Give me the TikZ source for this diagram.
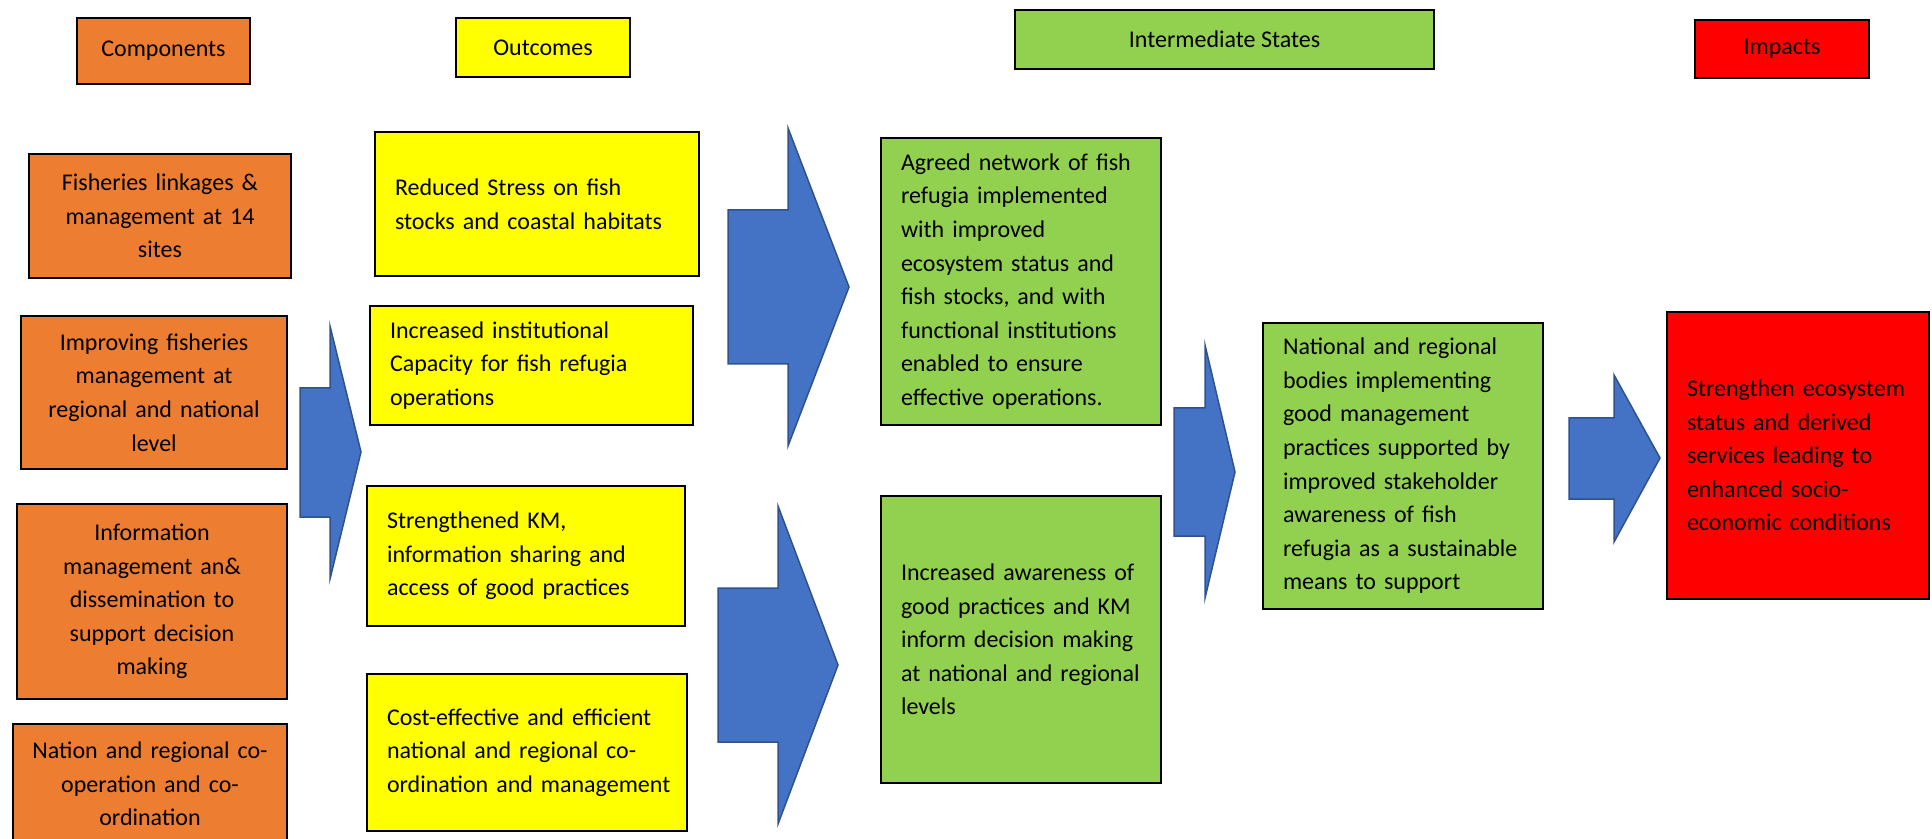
\documentclass[tikz,border=0pt]{standalone}
\usepackage{fontspec}
\setmainfont{Carlito}
\definecolor{orng}{HTML}{ED7D31}
\definecolor{ylw}{HTML}{FFFF00}
\definecolor{grn}{HTML}{92D050}
\definecolor{rd}{HTML}{FF0000}
\definecolor{abl}{HTML}{4472C4}
\definecolor{abd}{HTML}{2F528F}
\begin{document}
\begin{tikzpicture}[x=0.5pt,y=-0.5pt,
  box/.style={draw=black, line width=0.75pt, inner sep=0pt,
    font=\fontsize{12pt}{16.8pt}\selectfont},
  sz/.style 2 args={minimum width=#1, minimum height=#2},
  lt/.style={align=left, text width=#1},
  ct/.style={align=center, text width=#1},
  comp/.style={box, fill=orng},
  outc/.style={box, fill=ylw},
  inter/.style={box, fill=grn},
  imp/.style={box, fill=rd},
  blockarrow/.style={fill=abl, draw=abd, line width=0.75pt, line join=miter}
]
\fill[white] (0,0) rectangle (1932,839);
\useasboundingbox (0,0) rectangle (1932,839);

% headers
\node[comp, sz={86.5pt}{33pt}] (hComp) at (163.5,51) {Components};
\node[outc, sz={87pt}{29.5pt}] (hOut) at (543,47.5) {Outcomes};
\node[inter, sz={209.5pt}{29.5pt}] (hInt) at (1224.5,39.5) {Intermediate States};
\node[imp, sz={87pt}{29pt}] (hImp) at (1782,49) {Impacts};

% components
\node[comp, sz={131pt}{62pt}, ct=121pt] (c1) at (160,216)
  {Fisheries linkages \&\\management at 14\\sites};
\node[comp, sz={133pt}{76.5pt}, ct=123pt] (c2) at (154,392.5)
  {Improving fisheries\\management at\\regional and national\\level};
\node[comp, sz={135pt}{97.5pt}, ct=125pt] (c3) at (152,601.5)
  {Information\\management an\&\\dissemination to\\support decision\\making};
\node[comp, sz={137pt}{60pt}, ct=127pt] (c4) at (150,784)
  {Nation and regional co-\\operation and co-\\ordination};

% outcomes
\node[outc, sz={162pt}{72pt}, lt=142pt] (o1) at (537,204)
  {Reduced Stress on fish\\stocks and coastal habitats};
\node[outc, sz={161.5pt}{59.5pt}, lt=141.5pt] (o2) at (531.5,365.5)
  {Increased institutional\\Capacity for fish refugia\\operations};
\node[outc, sz={159pt}{70pt}, lt=139pt] (o3) at (526,556)
  {Strengthened KM,\\information sharing and\\access of good practices\\[9pt]};
\node[outc, sz={160pt}{78.5pt}, lt=140pt] (o4) at (527,752.5)
  {\mbox{Cost-effective and efficient}\\\mbox{national and regional co-}\\\mbox{ordination and management}};

% intermediate states
\node[inter, sz={140pt}{143.5pt}, lt=120pt] (s1) at (1021,281.5)
  {Agreed network of fish\\refugia implemented\\with improved\\ecosystem status and\\fish stocks, and with\\functional institutions\\enabled to ensure\\effective operations.};
\node[inter, sz={140pt}{143.5pt}, lt=120pt] (s2) at (1021,639.5)
  {Increased awareness of\\good practices and KM\\inform decision making\\at national and regional\\levels};
\node[inter, sz={140pt}{143pt}, lt=120pt] (s3) at (1403,466)
  {National and regional\\bodies implementing\\good management\\practices supported by\\improved stakeholder\\awareness of fish\\refugia as a sustainable\\means to support};

% impact
\node[imp, sz={131pt}{143.5pt}, lt=111pt] (r1) at (1798,455.5)
  {Strengthen ecosystem\\status and derived\\services leading to\\enhanced socio-\\economic conditions};

% block arrows
\draw[blockarrow] (300,388) -- (330,388) -- (330,326) -- (361,452) -- (330,579) -- (330,517) -- (300,517) -- cycle;
\draw[blockarrow] (728,210) -- (788,210) -- (788,128) -- (849,287) -- (788,446) -- (788,364) -- (728,364) -- cycle;
\draw[blockarrow] (718,588) -- (778,588) -- (778,506) -- (838,665) -- (778,824) -- (778,742) -- (718,742) -- cycle;
\draw[blockarrow] (1174,408) -- (1205,408) -- (1205,345) -- (1235,472) -- (1205,598) -- (1205,536) -- (1174,536) -- cycle;
\draw[blockarrow] (1569,418) -- (1614,418) -- (1614,375) -- (1660,458) -- (1614,542) -- (1614,499) -- (1569,499) -- cycle;
\end{tikzpicture}
\end{document}
